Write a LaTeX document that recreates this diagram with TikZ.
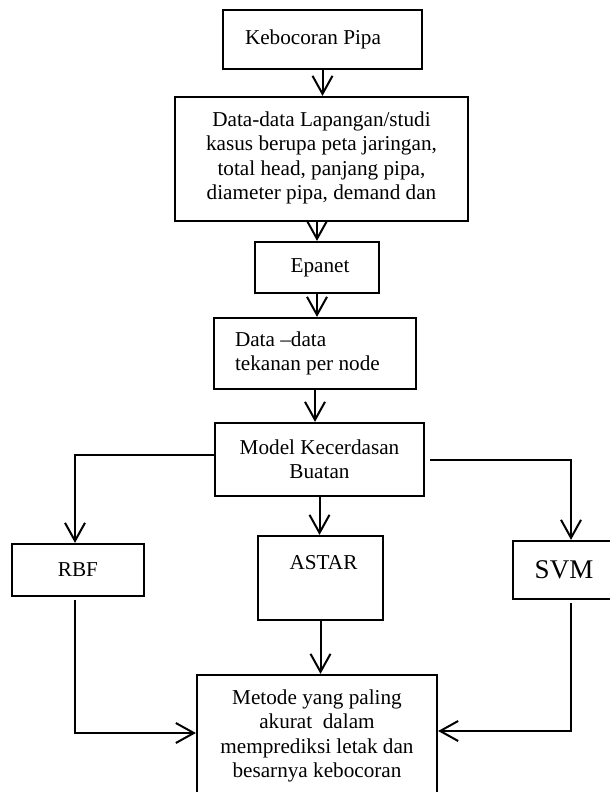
\documentclass[tikz,border=0pt]{standalone}
\usepackage{fontspec}
\setmainfont{Liberation Serif}
\usetikzlibrary{arrows.meta}
\tikzset{
  box/.style={draw, line width=1.1pt, rectangle, inner sep=0pt, align=center,
    font=\fontsize{10.6}{12.2}\selectfont},
  arr/.style={line width=1pt, -{Straight Barb[length=9pt,width=10pt,line width=1pt]}},
  plain/.style={line width=1pt}
}
\begin{document}
\begin{tikzpicture}[x=0.5pt,y=-0.5pt]
\useasboundingbox (0,0) rectangle (610,792);
\fill[white] (0,0) rectangle (610,792);
\clip (0,0) rectangle (610,792);

\node[box, minimum width=99.5pt, minimum height=29.5pt] (b1) at (322.5,39.5) {Kebocoran Pipa\hspace{9.5pt}};
\node[box, minimum width=146.5pt, minimum height=62pt, text depth=3.5pt] (b2) at (321.5,159)
  {Data-data Lapangan/studi\\kasus berupa peta jaringan,\\total head, panjang pipa,\\diameter pipa, demand dan};
\node[box, minimum width=62pt, minimum height=25.5pt] (b3) at (317,267.5) {\hspace{3pt}Epanet};
\node[box, minimum width=101pt, minimum height=35.5pt, align=none] (b4) at (315,353.5)
  {\makebox[80pt][l]{\begin{tabular}{@{}l@{}}Data –data\\tekanan per node\end{tabular}}};
\node[box, minimum width=104.5pt, minimum height=36.5pt] (b5) at (319.5,459.5) {Model Kecerdasan\\Buatan};
\node[box, minimum width=66pt, minimum height=26pt] (rbf) at (78,570) {RBF};
\node[box, minimum width=62.5pt, minimum height=42pt, text depth=16pt] (astar) at (320.5,578) {\hspace{3pt}ASTAR};
\node[box, minimum width=51pt, minimum height=29pt, font=\fontsize{13.5}{15}\selectfont] (svm) at (564,570) {SVM};
\node[box, minimum width=120pt, minimum height=61pt] (b6) at (317,736)
  {Metode yang paling\\akurat\ \ dalam\\memprediksi letak dan\\besarnya kebocoran};

\draw[arr] (b1.south) -- (b1.south |- b2.north);
\draw[arr] (b3.north |- b2.south) -- (b3.north);
\draw[arr] (b3.south) -- (b3.south |- b4.north);
\draw[arr] (b4.south) -- (b4.south |- b5.north);
\draw[arr] ([yshift=2.25pt]b5.west) -| ([xshift=-1.5pt]rbf.north);
\draw[arr] (b5.south) -- (b5.south |- astar.north);
\draw[arr] ([xshift=2.5pt]b5.east) -| ([xshift=3.5pt]svm.north);
\draw[arr] ([xshift=-1.5pt,yshift=-1.5pt]rbf.south) |- ([yshift=1.5pt]b6.west);
\draw[arr] (astar.south) -- (astar.south |- b6.north);
\draw[arr] ([xshift=3.5pt,yshift=-1.5pt]svm.south) |- ([yshift=2.5pt]b6.east);
\end{tikzpicture}
\end{document}
